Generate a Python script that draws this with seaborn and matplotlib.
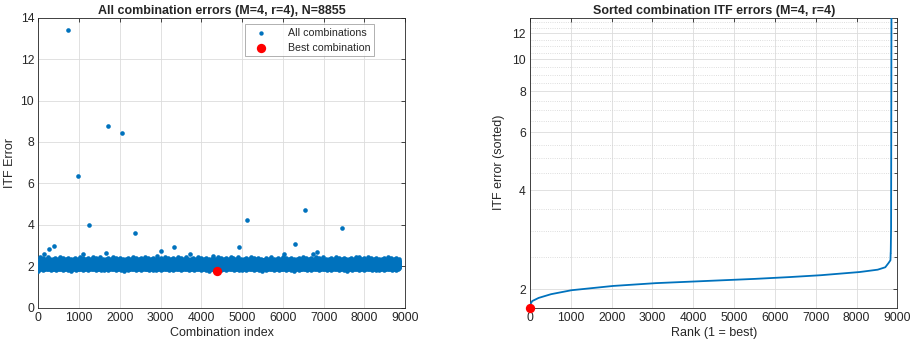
import numpy as np
import pandas as pd
import matplotlib
matplotlib.use("Agg")
import matplotlib.pyplot as plt
import seaborn as sns
from matplotlib.ticker import FixedLocator, NullFormatter, FixedFormatter

sns.set_style("white")
plt.rcParams['font.family'] = ['Liberation Sans', 'DejaVu Sans']

N_TOTAL = 8855

# best combination (index, error)
best_index = 4370
best_error = 1.757

# outliers (index, error)
outlier_index = [735, 966, 1251, 1717, 2053, 2364, 5118, 6540, 7440,
                 148, 262, 393, 1096, 1660, 2911, 3009, 3335, 3720, 4284,
                 4914, 6032, 6302, 6743, 6834, 7864]
outlier_error = [13.4, 6.36, 3.99, 8.77, 8.45, 3.59, 4.23, 4.72, 3.83,
                 2.58, 2.83, 2.99, 2.58, 2.66, 2.50, 2.75, 2.95, 2.58, 2.50,
                 2.95, 2.58, 3.06, 2.59, 2.67, 2.46]

# sorted-error curve of the bulk (rank, error)
curve_rank = [2, 10, 50, 200, 500, 1000, 2000, 3000, 4000, 5000, 6000,
              7000, 8000, 8500, 8700, 8760, 8829]
curve_error = [1.785, 1.80, 1.84, 1.88, 1.93, 1.985, 2.045, 2.085, 2.11,
               2.135, 2.165, 2.20, 2.25, 2.29, 2.33, 2.38, 2.45]

# ---- assemble the series ----
n_bulk = N_TOTAL - 1 - len(outlier_index)
bulk_ranks = np.linspace(curve_rank[0], curve_rank[-1], n_bulk)
bulk_sorted = np.interp(bulk_ranks, curve_rank, curve_error)

used = set(outlier_index) | {best_index}
free_idx = np.array([i for i in range(N_TOTAL) if i not in used])
order = np.argsort((np.arange(n_bulk) * 0.6180339887498949) % 1.0)
errors = np.empty(N_TOTAL)
errors[free_idx] = bulk_sorted[order]
errors[outlier_index] = outlier_error
errors[best_index] = best_error

df_all = pd.DataFrame({"idx": np.arange(1, N_TOTAL + 1), "err": errors})
sorted_err = np.sort(errors)
df_sorted = pd.DataFrame({"rank": np.arange(1, N_TOTAL + 1), "err": sorted_err})

BLUE = "#0072BD"
RED = "#FF0000"
AXC = "#262626"
GRIDC = "#DCDCDC"
TICK_FS = 8.7
LAB_FS = 9.0
TITLE_FS = 9.0

fig = plt.figure(figsize=(9.14, 3.49), dpi=100)
ax1 = fig.add_axes([0.0419, 0.1183, 0.4015, 0.831])
ax2 = fig.add_axes([0.5799, 0.1183, 0.4019, 0.831])

# ---- left panel ----
sns.scatterplot(data=df_all, x="idx", y="err", ax=ax1, color=BLUE, s=11,
                linewidth=0, label="All combinations", zorder=3)
sns.scatterplot(x=[best_index + 1], y=[best_error], ax=ax1, color=RED, s=45,
                linewidth=0, label="Best combination", zorder=4)
ax1.set_xlim(0, 9000)
ax1.set_ylim(0, 14)
ax1.set_xticks(np.arange(0, 9001, 1000))
ax1.set_yticks(np.arange(0, 15, 2))
ax1.set_xlabel("Combination index", fontsize=LAB_FS, color=AXC, labelpad=2)
ax1.set_ylabel("ITF Error", fontsize=LAB_FS, color=AXC, labelpad=3)
ax1.set_title("All combination errors (M=4, r=4), N=8855", fontsize=TITLE_FS,
              fontweight="bold", pad=3)
ax1.grid(True, color=GRIDC, lw=0.6)
leg = ax1.legend(loc="upper right", bbox_to_anchor=(0.915, 0.978), fontsize=7.7,
                 frameon=True, fancybox=False, edgecolor="#8c8c8c",
                 borderpad=0.35, handletextpad=1.4, labelspacing=0.45,
                 borderaxespad=0, handlelength=2.2)
leg.get_frame().set_linewidth(0.6)
for h in leg.legend_handles[:1]:
    h.set_sizes([10])
for h in leg.legend_handles[1:]:
    h.set_sizes([45])

# ---- right panel ----
sns.lineplot(data=df_sorted, x="rank", y="err", ax=ax2, color=BLUE, lw=1.3,
             estimator=None, sort=False, zorder=3)
ax2.scatter([1], [sorted_err[0]], color=RED, s=45, linewidth=0, zorder=5,
            clip_on=False)
ax2.set_yscale("log")
ax2.set_xlim(0, 9000)
ax2.set_ylim(sorted_err[0], sorted_err[-1])
ax2.set_xticks(np.arange(0, 9001, 1000))
major = [2, 4, 6, 8, 10, 12]
ax2.yaxis.set_major_locator(FixedLocator(major))
ax2.yaxis.set_major_formatter(FixedFormatter([str(m) for m in major]))
minor = [v for v in np.arange(2.0, 13.01, 0.5) if v not in major]
ax2.yaxis.set_minor_locator(FixedLocator(minor))
ax2.yaxis.set_minor_formatter(NullFormatter())
ax2.set_xlabel("Rank (1 = best)", fontsize=LAB_FS, color=AXC, labelpad=2)
ax2.set_ylabel("ITF error (sorted)", fontsize=LAB_FS, color=AXC, labelpad=5)
ax2.set_title("Sorted combination ITF errors (M=4, r=4)", fontsize=TITLE_FS,
              fontweight="bold", pad=3)
ax2.grid(True, which="major", color=GRIDC, lw=0.6)
ax2.grid(True, which="minor", color="#D2D2D2", lw=0.6, ls=":")

for ax in (ax1, ax2):
    for sp in ax.spines.values():
        sp.set_color(AXC)
        sp.set_linewidth(0.6)
        sp.set_visible(True)
    ax.tick_params(which="both", direction="in", top=True, right=True,
                   labelsize=TICK_FS, colors=AXC, width=0.6, pad=3)
    ax.tick_params(which="major", length=3)
    ax.tick_params(which="minor", length=2)
    ax.set_axisbelow(True)

fig.savefig("out.png", dpi=100)
